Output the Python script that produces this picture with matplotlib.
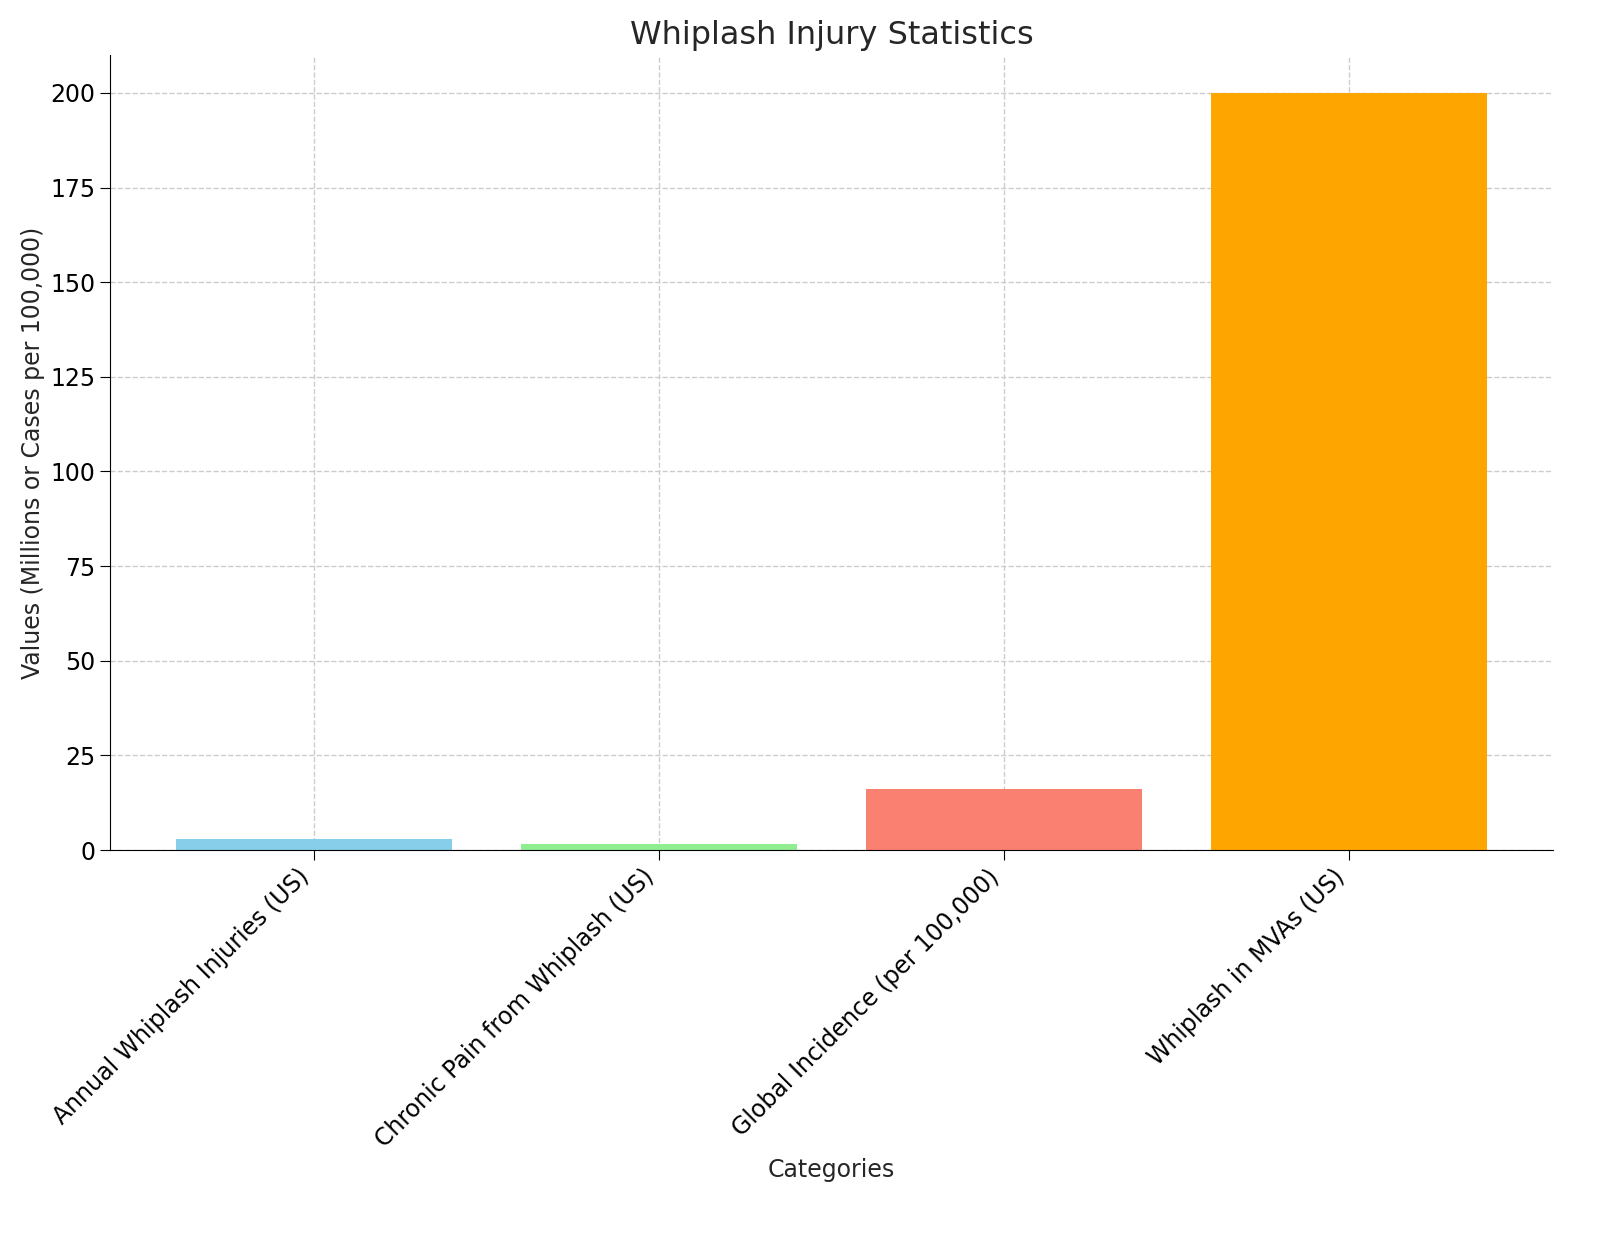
import matplotlib
matplotlib.use("Agg")
import matplotlib.pyplot as plt

categories = ["Annual Whiplash Injuries (US)", "Chronic Pain from Whiplash (US)",
              "Global Incidence (per 100,000)", "Whiplash in MVAs (US)"]
values = [3, 1.5, 16, 200]
colors = ["skyblue", "lightgreen", "salmon", "orange"]

fig = plt.figure(figsize=(16, 12.55), dpi=100)
ax = fig.add_axes([110/1600, 1-850/1255, (1553-110)/1600, (850-55)/1255])
ax.bar(categories, values, color=colors, zorder=2)
ax.set_ylim(0, 210)
ax.set_xlim(-0.59, 3.59)
ax.grid(True, linestyle="--", color="#cccccc", linewidth=1, zorder=0)
ax.spines["top"].set_visible(False)
ax.spines["right"].set_visible(False)
ax.tick_params(labelsize=17, length=7)
plt.setp(ax.get_xticklabels(), rotation=45, ha="right")
ax.set_title("Whiplash Injury Statistics", fontsize=23, color="#262626", pad=8)
ax.set_xlabel("Categories", fontsize=17, color="#262626")
ax.set_ylabel("Values (Millions or Cases per 100,000)", fontsize=17, color="#262626")
fig.savefig("out.png", dpi=100)
